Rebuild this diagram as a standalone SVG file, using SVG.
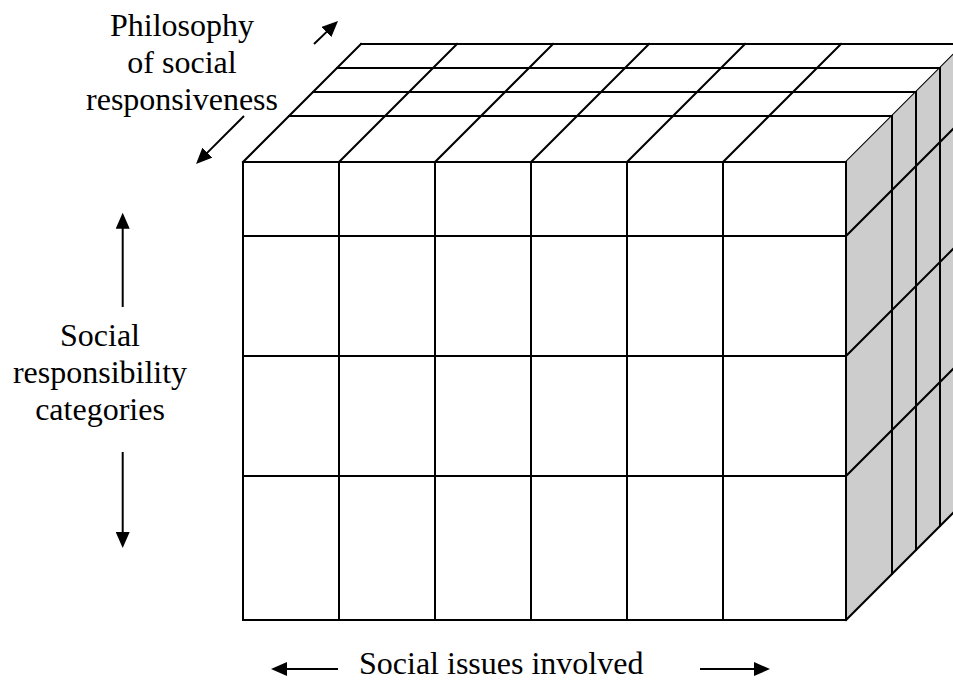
<svg xmlns="http://www.w3.org/2000/svg" width="953" height="680" viewBox="0 0 953 680">
  <defs>
    <marker id="head" markerUnits="userSpaceOnUse" markerWidth="16" markerHeight="14" viewBox="0 0 16 14" refX="6" refY="7" orient="auto">
      <path d="M0,0 L16,7 L0,14 z" fill="#000"/>
    </marker>
  </defs>
  <style>
    .grid { stroke: #000; stroke-width: 2; fill: none; stroke-linecap: square; }
    .face-front { fill: #fff; }
    .face-top { fill: #fff; }
    .face-side { fill: #cdcdcd; }
    .label { font-family: "Liberation Serif", "Times New Roman", serif; font-size: 32px; fill: #000; }
    .arrow { stroke: #000; stroke-width: 2; fill: none; marker-end: url(#head); }
  </style>
  <rect width="953" height="680" fill="#fff"/>

  <!-- Cube: front face 243..846 x 162..620, depth vector (118,-118) -->
  <g id="cube">
    <g id="face-top">
      <polygon class="face-top" points="243,162 361,44 964,44 846,162"/>
      <path class="grid" d="M361,44 H964 M337,68 H940 M313,92 H916 M289,116 H892"/>
      <path class="grid" d="M243,162 L361,44 M339,162 L457,44 M435,162 L553,44 M531,162 L649,44 M627,162 L745,44 M723,162 L841,44 M846,162 L964,44"/>
    </g>
    <g id="face-side">
      <polygon class="face-side" points="846,162 964,44 964,502 846,620"/>
      <path class="grid" d="M892,116 V574 M916,92 V550 M940,68 V526"/>
      <path class="grid" d="M846,236 L964,118 M846,356 L964,238 M846,476 L964,358 M846,620 L964,502"/>
    </g>
    <g id="face-front">
      <rect class="face-front" x="243" y="162" width="603" height="458"/>
      <path class="grid" d="M243,162 H846 V620 H243 Z"/>
      <path class="grid" d="M339,162 V620 M435,162 V620 M531,162 V620 M627,162 V620 M723,162 V620"/>
      <path class="grid" d="M243,236 H846 M243,356 H846 M243,476 H846"/>
    </g>
  </g>

  <!-- Axis labels -->
  <g id="label-philosophy">
    <text class="label" text-anchor="middle" x="182" y="36">Philosophy</text>
    <text class="label" text-anchor="middle" x="182" y="73">of social</text>
    <text class="label" text-anchor="middle" x="182" y="110">responsiveness</text>
  </g>
  <g id="label-categories">
    <text class="label" text-anchor="middle" x="100" y="346">Social</text>
    <text class="label" text-anchor="middle" x="100" y="383">responsibility</text>
    <text class="label" text-anchor="middle" x="100" y="420">categories</text>
  </g>
  <g id="label-issues">
    <text class="label" x="359" y="674">Social issues involved</text>
  </g>

  <!-- Axis direction arrows -->
  <g id="arrows">
    <line class="arrow" x1="314" y1="44" x2="330.8" y2="27.9"/>
    <line class="arrow" x1="244" y1="116" x2="203.1" y2="156.9"/>
    <line class="arrow" x1="122.7" y1="307" x2="122.7" y2="222.7"/>
    <line class="arrow" x1="122.7" y1="452" x2="122.7" y2="538"/>
    <line class="arrow" x1="338" y1="669" x2="281" y2="669"/>
    <line class="arrow" x1="700" y1="669" x2="760" y2="669"/>
  </g>
</svg>
